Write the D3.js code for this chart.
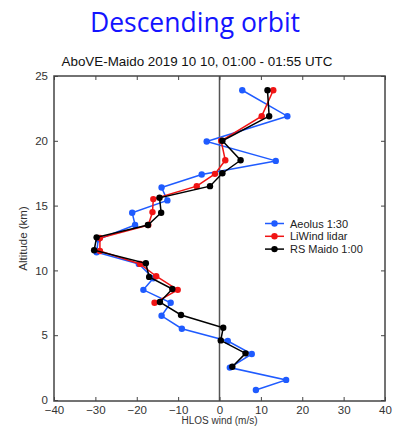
<!DOCTYPE html>
<html>
<head>
<meta charset="utf-8">
<script src="https://cdn.jsdelivr.net/npm/d3@7"></script>
<style>
  html, body { margin: 0; padding: 0; background: #fff; }
  svg { display: block; }
</style>
</head>
<body>
<svg id="chart" width="403" height="426"></svg>
<script>
// ---- Data ----
const xTicks = [-40, -30, -20, -10, 0, 10, 20, 30, 40];
const yTicks = [0, 5, 10, 15, 20, 25];

const aeolusAlt  = [23.9, 21.9, 19.95, 18.45, 17.4, 16.4, 15.4, 14.45, 13.5, 12.4, 11.4, 10.5, 9.4, 8.5, 7.5, 6.5, 5.5, 4.55, 3.55, 2.5, 1.55, 0.77];
const aeolusWind = [5.5, 16.4, -3.1, 13.6, -4.3, -14, -12.6, -21.1, -20.4, -29.3, -29.7, -19.5, -16, -18.4, -11.8, -14, -9.1, 2.0, 7.8, 2.5, 16.1, 8.8];

const liwindAlt  = [23.9, 21.9, 20.0, 18.5, 17.45, 16.5, 15.5, 14.5, 13.5, 12.5, 11.5, 10.5, 9.55, 8.5, 7.5];
const liwindWind = [13, 10.2, 0.4, 1.4, -1.1, -5.5, -16, -16.2, -17.2, -28.9, -28.9, -19.2, -15.3, -10.1, -15.7];

const rsAlt  = [23.9, 21.9, 20.0, 18.5, 17.5, 16.5, 15.6, 14.45, 13.5, 12.55, 11.55, 10.55, 9.5, 8.56, 7.56, 6.56, 5.58, 4.6, 3.6, 2.57];
const rsWind = [11.6, 12, 0.7, 5.1, 0.7, -2.3, -14.5, -14.1, -17.3, -29.7, -30.3, -17.8, -17, -11.4, -14.4, -9.3, 0.9, 0.3, 6.3, 3.1];

const seriesNames = ["Aeolus 1:30", "LiWind lidar", "RS Maido 1:00"];
const seriesColors = ["#1f5bff", "#f01414", "#000000"];

// ---- Layout ----
const svg = d3.select("#chart");
const pLeft = 54, pRight = 385, pTop = 76, pBottom = 401;

const x = d3.scaleLinear().domain([-40, 40]).range([pLeft, pRight]);
const y = d3.scaleLinear().domain([0, 25]).range([pBottom - 1, pTop]);

// Titles
svg.append("text")
  .attr("x", 195).attr("y", 31.5)
  .attr("text-anchor", "middle")
  .attr("font-family", "'Open Sans', sans-serif")
  .attr("font-size", 26.5)
  .attr("fill", "#1414ff")
  .text("Descending orbit");

svg.append("text")
  .attr("x", 197).attr("y", 66)
  .attr("text-anchor", "middle")
  .attr("font-family", "'Liberation Sans', Arial, sans-serif")
  .attr("font-size", 13.4)
  .attr("fill", "#111")
  .text("AboVE-Maido 2019 10 10, 01:00 - 01:55 UTC");

// Zero line
svg.append("line")
  .attr("x1", x(0)).attr("x2", x(0))
  .attr("y1", pTop).attr("y2", pBottom)
  .attr("stroke", "#555").attr("stroke-width", 1.5);

// Axes (inward ticks, mirrored)
const axisFont = "'Liberation Sans', Arial, sans-serif";
function styleAxis(g, showLabels) {
  g.select(".domain").remove();
  g.selectAll(".tick line").attr("stroke", "#444").attr("stroke-width", 1);
  g.selectAll(".tick text")
    .attr("font-family", axisFont).attr("font-size", 11.5).attr("fill", "#333")
    .style("display", showLabels ? null : "none");
}
svg.append("g").attr("transform", `translate(0,${pBottom})`)
  .call(d3.axisBottom(x).tickValues(xTicks).tickSize(-4).tickPadding(5))
  .call(g => styleAxis(g, true));
svg.append("g").attr("transform", `translate(0,${pTop})`)
  .call(d3.axisTop(x).tickValues(xTicks).tickSize(-4))
  .call(g => styleAxis(g, false));
svg.append("g").attr("transform", `translate(${pLeft},0)`)
  .call(d3.axisLeft(y).tickValues(yTicks).tickSize(-4).tickPadding(6))
  .call(g => styleAxis(g, true));
svg.append("g").attr("transform", `translate(${pRight},0)`)
  .call(d3.axisRight(y).tickValues(yTicks).tickSize(-4))
  .call(g => styleAxis(g, false));

// Box
svg.append("rect")
  .attr("x", pLeft).attr("y", pTop)
  .attr("width", pRight - pLeft).attr("height", pBottom - pTop)
  .attr("fill", "none").attr("stroke", "#444").attr("stroke-width", 1.5);

// Axis labels
svg.append("text")
  .attr("transform", `translate(27,${(pTop + pBottom) / 2}) rotate(-90)`)
  .attr("text-anchor", "middle")
  .attr("font-family", axisFont).attr("font-size", 11.5).attr("fill", "#333")
  .text("Altitude (km)");
svg.append("text")
  .attr("x", x(0)).attr("y", 424)
  .attr("text-anchor", "middle")
  .attr("font-family", axisFont).attr("font-size", 10).attr("fill", "#333")
  .text("HLOS wind (m/s)");

// Series
const series = [
  { alt: aeolusAlt, wind: aeolusWind },
  { alt: liwindAlt, wind: liwindWind },
  { alt: rsAlt, wind: rsWind }
];
const line = d3.line().x(d => x(d[0])).y(d => y(d[1]));
series.forEach((s, i) => {
  const pts = s.wind.map((w, j) => [w, s.alt[j]]);
  const g = svg.append("g");
  g.append("path").datum(pts)
    .attr("d", line).attr("fill", "none")
    .attr("stroke", seriesColors[i]).attr("stroke-width", 1.5);
  g.selectAll("circle").data(pts).join("circle")
    .attr("cx", d => x(d[0])).attr("cy", d => y(d[1]))
    .attr("r", 3.2).attr("fill", seriesColors[i]);
});

// Legend
const legend = svg.append("g");
seriesNames.forEach((name, i) => {
  const ly = 223.5 + i * 12.8;
  legend.append("line")
    .attr("x1", 265).attr("x2", 284).attr("y1", ly).attr("y2", ly)
    .attr("stroke", seriesColors[i]).attr("stroke-width", 1.5);
  legend.append("circle").attr("cx", 274.5).attr("cy", ly).attr("r", 3.2).attr("fill", seriesColors[i]);
  legend.append("text")
    .attr("x", 290).attr("y", ly + 4)
    .attr("font-family", axisFont).attr("font-size", 11).attr("fill", "#222")
    .text(name);
});
</script>
</body>
</html>
